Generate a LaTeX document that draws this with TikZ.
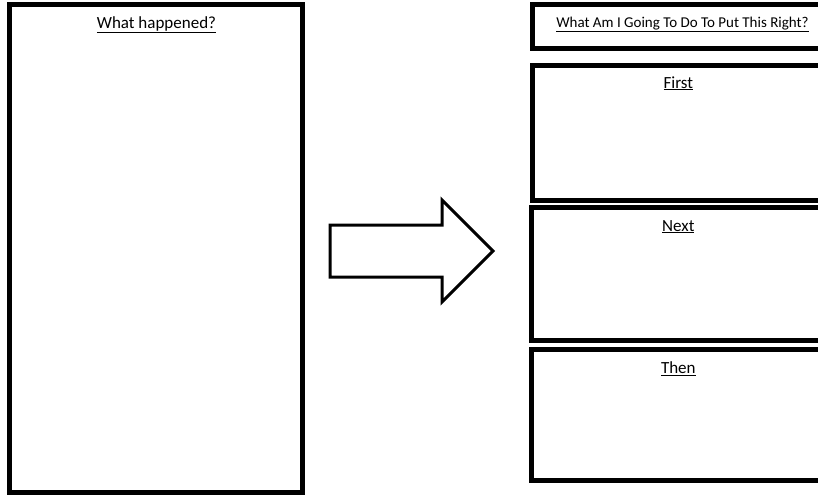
\documentclass[tikz,border=0pt]{standalone}
\usepackage{fontspec}
\setmainfont{Carlito}
\usepackage{tikz}

\tikzset{
    panel/.style={draw=black, line width=5pt},
    heading/.style={anchor=base, inner sep=0pt, font=\fontsize{17}{19}\selectfont}
}

\begin{document}
\begin{tikzpicture}[x=1pt, y=-1pt]
    \useasboundingbox (0, 0) rectangle (818, 495);
    \clip (0, 0) rectangle (818, 495);

    % left panel
    \draw [panel] (9, 4.5) rectangle (302.5, 492.5);
    \node [heading] (happened) at (156.5, 28.5) {\underline{What happened?}};

    % arrow
    \draw [line width=3pt, line join=miter] (330, 225) -- (442, 225) -- (442, 200) -- (493, 251)
        -- (442, 302) -- (442, 277) -- (330, 277) -- cycle;

    % right panels
    \draw [panel] (532, 4.5) rectangle (834, 49);
    \draw [panel] (532, 65.5) rectangle (834, 200);
    \draw [panel] (531, 207) rectangle (834, 340);
    \draw [panel] (531, 349) rectangle (834, 480.5);

    \node [heading, font=\fontsize{15}{17}\selectfont] (putright) at (682.5, 27.5) {\underline{What Am I Going To Do To Put This Right?}};
    \node [heading] (first) at (678.3, 88) {\underline{First}};
    \node [heading] (next) at (678.3, 231) {\underline{Next}};
    \node [heading] (then) at (678.3, 373.5) {\underline{Then}};
\end{tikzpicture}
\end{document}
